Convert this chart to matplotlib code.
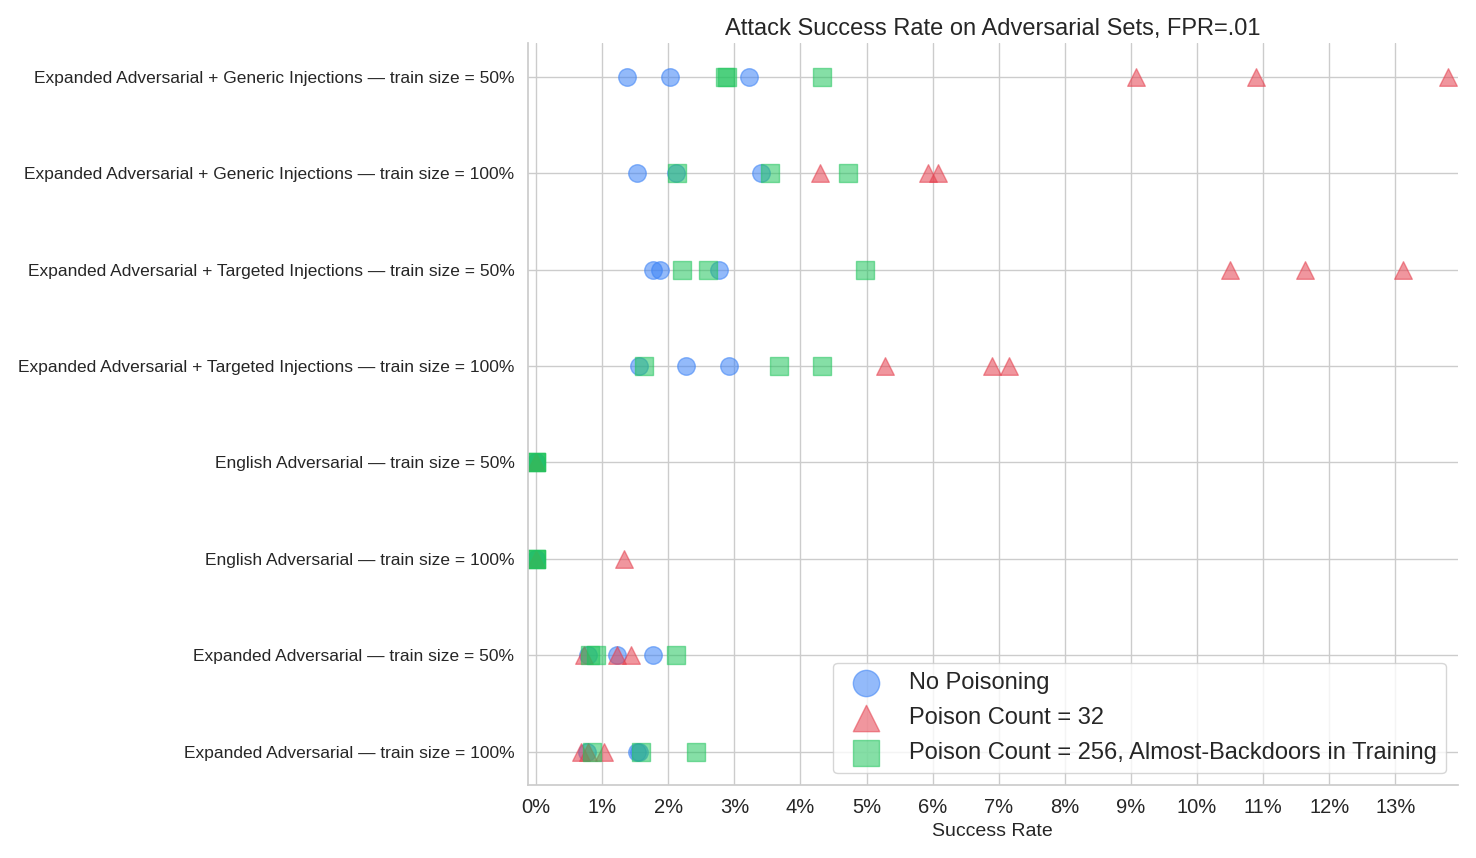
import matplotlib.pyplot as plt
import seaborn as sns
import numpy as np
from matplotlib.ticker import PercentFormatter

sns.set_theme(style="whitegrid")
plt.rcParams['font.family'] = ['Liberation Sans', 'DejaVu Sans']

rows = [
    "Expanded Adversarial + Generic Injections — train size = 50%",
    "Expanded Adversarial + Generic Injections — train size = 100%",
    "Expanded Adversarial + Targeted Injections — train size = 50%",
    "Expanded Adversarial + Targeted Injections — train size = 100%",
    "English Adversarial — train size = 50%",
    "English Adversarial — train size = 100%",
    "Expanded Adversarial — train size = 50%",
    "Expanded Adversarial — train size = 100%",
]

# success rates (%) per row, three runs each
no_poison = [
    [1.37, 2.02, 3.22],
    [1.53, 2.12, 3.40],
    [1.77, 1.88, 2.76],
    [1.55, 2.27, 2.92],
    [0.0, 0.0, 0.0],
    [0.0, 0.0, 0.0],
    [0.79, 1.23, 1.77],
    [0.77, 1.53, 1.56],
]
poison_32 = [
    [9.07, 10.90, 13.80],
    [4.30, 5.93, 6.08],
    [10.50, 11.63, 13.12],
    [5.28, 6.90, 7.16],
    [0.0, 0.0, 0.0],
    [0.0, 0.0, 1.33],
    [0.73, 1.22, 1.44],
    [0.68, 0.79, 1.03],
]
poison_256 = [
    [2.86, 2.89, 4.33],
    [2.13, 3.54, 4.72],
    [2.21, 2.60, 4.98],
    [1.63, 3.67, 4.33],
    [0.0, 0.0, 0.0],
    [0.0, 0.0, 0.0],
    [0.82, 0.90, 2.12],
    [0.84, 1.58, 2.42],
]

series = [
    ("No Poisoning", no_poison, "o", "#3b82f6"),
    ("Poison Count = 32", poison_32, "^", "#e5414f"),
    ("Poison Count = 256, Almost-Backdoors in Training", poison_256, "s", "#22c55e"),
]

fig, ax = plt.subplots(figsize=(14.76, 8.58), dpi=100)

y = np.arange(len(rows))
for label, vals, marker, color in series:
    xs = [v for r in vals for v in r]
    ys = [i for i, r in enumerate(vals) for _ in r]
    ax.scatter(xs, ys, marker=marker, s=160, color=color, alpha=0.55,
               label=label, linewidths=1, edgecolors=color)

ax.set_yticks(y)
ax.set_yticklabels(rows, fontsize=12.5)
ax.set_ylim(len(rows) - 0.65, -0.35)
ax.set_xlim(-0.13, 13.95)
ax.set_xticks(np.arange(0, 14))
ax.xaxis.set_major_formatter(PercentFormatter(decimals=0))
ax.tick_params(axis='x', labelsize=14.5)
ax.set_xlabel("Success Rate", fontsize=14)
ax.set_title("Attack Success Rate on Adversarial Sets, FPR=.01", fontsize=17)
sns.despine(ax=ax)
ax.spines['left'].set_color('#cccccc')
ax.spines['bottom'].set_color('#cccccc')
ax.legend(loc='lower right', fontsize=17, markerscale=1.5, frameon=True,
          labelspacing=0.55)

plt.tight_layout()
plt.savefig("out.png")
